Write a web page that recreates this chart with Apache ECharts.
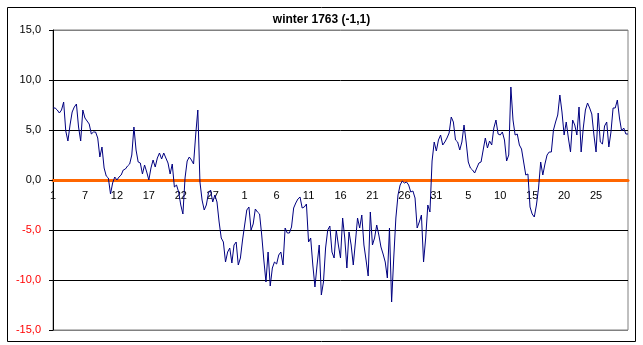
<!DOCTYPE html>
<html>
<head>
<meta charset="utf-8">
<script src="https://cdn.jsdelivr.net/npm/echarts@6/dist/echarts.min.js"></script>
<style>
  html, body { margin: 0; padding: 0; background: #fff; }
  #chart { width: 643px; height: 345px; }
</style>
</head>
<body>
<div id="chart"></div>
<script>
// temperature readings, 3 per day
const decTemps = [
  7.2, 7.2, 7.0, 6.7, 7.0, 7.8, 4.9, 3.9, 5.5, 6.8,
  7.3, 7.6, 5.3, 3.9, 7.0, 6.2, 5.9, 5.6, 4.6, 4.8,
  4.8, 4.2, 2.3, 3.3, 1.2, 0.4, 0.2, -1.4, -0.3, 0.3,
  0.0, 0.3, 0.5, 1.0, 1.1, 1.4, 1.6, 2.5, 5.3, 3.0,
  1.8, 1.7, 0.6, 1.5, 0.8, 0.0, 1.2, 2.0, 1.3, 2.2,
  2.7, 2.1, 2.7, 2.2, 1.7, 0.6, 1.6, -0.7, -0.5, -1.2,
  -2.5, -3.4, 0.2, 1.9, 2.3, 2.0, 1.6, 4.5, 7.0, -0.2,
  -2.0, -3.0, -2.5, -1.3, -1.0, -2.2, -1.5, -2.2, -4.2, -5.8,
  -6.2, -8.2, -7.2, -6.8, -8.3, -6.5, -6.2, -8.5, -7.8, -6.0
];
const janTemps = [
  -4.5, -3.0, -2.7, -5.0, -4.4, -2.9, -3.2, -3.4, -5.5, -8.0,
  -10.2, -7.2, -10.6, -8.8, -8.2, -8.4, -7.5, -7.2, -8.5, -4.8,
  -5.3, -5.3, -4.7, -2.8, -2.3, -1.9, -1.7, -2.8, -2.7, -2.4,
  -6.2, -5.8, -8.5, -10.7, -8.5, -6.5, -11.5, -10.2, -6.8, -5.0,
  -4.6, -7.2, -7.8, -5.0, -6.5, -7.8, -3.8, -5.8, -8.8, -5.2,
  -6.5, -8.5, -6.2, -3.8, -4.8, -3.5, -6.5, -8.0, -9.6, -3.2,
  -6.5, -5.8, -4.5, -5.5, -6.7, -7.4, -8.2, -9.8, -4.8, -12.2,
  -7.8, -3.8, -1.5, -0.5, -0.1, -0.3, -0.2, -0.5, -1.2, -1.1,
  -1.8, -4.8, -4.2, -3.5, -8.2, -5.8, -2.5, -3.2, 1.9, 3.8,
  2.9, 4.0, 4.5
];
const febTemps = [
  3.5, 3.8, 4.2, 4.7, 6.3, 5.8, 4.0,
  3.8, 3.0, 3.8, 5.5, 3.8, 1.8, 1.2, 1.0, 0.7, 1.2,
  1.7, 1.8, 3.0, 4.2, 3.2, 3.9, 3.5, 5.2, 6.0, 4.6,
  4.5, 4.8, 4.0, 1.9, 2.5, 9.3, 6.0, 4.5, 4.6, 3.5,
  3.1, 1.8, 0.5, 0.6, -2.7, -3.4, -3.7, -2.5, -0.8, 1.8,
  0.5, 1.6, 2.5, 2.8, 2.8, 5.0, 5.8, 6.5, 8.5, 6.8,
  4.5, 5.8, 4.2, 2.8, 6.0, 5.5, 4.5, 7.3, 2.8, 5.2,
  7.0, 7.7, 7.2, 6.6, 4.5, 2.8, 6.7, 3.8, 3.6, 5.4,
  5.8, 3.3, 4.8, 7.2, 7.2, 8.0, 6.2, 4.9, 5.2, 4.6, 4.6
];
// day labels shown every 15 readings
const tickLabels = ['1', '7', '12', '17', '22', '27', '1', '6', '11', '16', '21', '26', '31', '5', '10', '15', '20', '25'];
const tickStep = 15;

const temps = decTemps.concat(janTemps, febTemps);
const categories = temps.map((v, i) => String(i));

const font = 'Liberation Sans, Arial, sans-serif';
const chart = echarts.init(document.getElementById('chart'), null, { renderer: 'canvas' });

chart.setOption({
  animation: false,
  backgroundColor: '#fff',
  title: {
    text: 'winter 1763 (-1,1)',
    left: 'center',
    top: 9,
    textStyle: { fontFamily: font, fontSize: 12, fontWeight: 'bold', color: '#000' }
  },
  graphic: [{
    type: 'rect',
    left: 5, top: 5,
    shape: { width: 628, height: 334 },
    style: { fill: null, stroke: '#000', lineWidth: 1 },
    silent: true
  }],
  grid: {
    left: 53, right: 15, top: 30, bottom: 15,
    containLabel: false,
    outerBoundsMode: 'none',
    show: true, borderColor: '#808080', borderWidth: 1
  },
  xAxis: {
    type: 'category',
    data: categories,
    boundaryGap: false,
    position: 'bottom',
    // the category axis crosses the value axis at 0
    offset: -150,
    axisLine: { onZero: false, lineStyle: { color: '#FF6600', width: 3 } },
    axisTick: { show: false },
    axisLabel: {
      interval: tickStep - 1,
      margin: 10,
      fontFamily: font, fontSize: 11, color: '#000',
      formatter: (v, i) => tickLabels[Math.round(i / tickStep)] || ''
    },
    splitLine: { show: false }
  },
  yAxis: {
    type: 'value',
    min: -15, max: 15, interval: 5,
    axisLine: { show: true, lineStyle: { color: '#000', width: 1 } },
    axisTick: { show: true, length: 4, lineStyle: { color: '#000' } },
    axisLabel: {
      margin: 12,
      fontFamily: font, fontSize: 11,
      color: v => (v < 0 ? '#FF0000' : '#000'),
      formatter: v => v.toFixed(1).replace('.', ',')
    },
    splitLine: {
      show: true,
      lineStyle: { color: ['#808080', '#000', '#000', 'rgba(0,0,0,0)', '#000', '#000', '#808080'], width: 1 }
    }
  },
  series: [{
    type: 'line',
    data: temps,
    showSymbol: false,
    symbol: 'none',
    lineStyle: { color: '#000080', width: 1 },
    z: 1
  }]
});
</script>
</body>
</html>
